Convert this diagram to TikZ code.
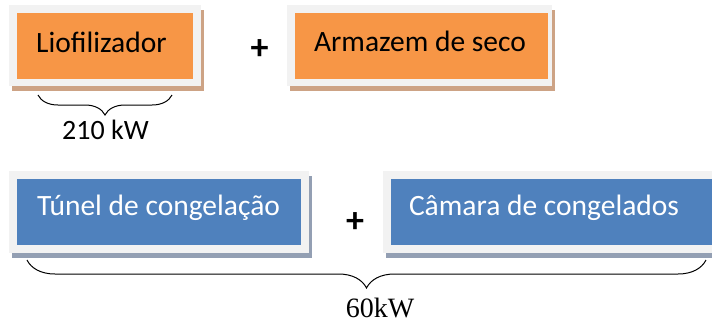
\documentclass[tikz,border=0pt]{standalone}
\usepackage{fontspec}
\setmainfont{Carlito}
\newfontfamily\tnr{Liberation Serif}
\usetikzlibrary{shadows,decorations.pathreplacing}
\definecolor{orfill}{HTML}{F79646}
\definecolor{blfill}{HTML}{4F81BD}
\definecolor{frameg}{HTML}{F2F2F2}
\definecolor{tanshadow}{HTML}{CDA385}
\definecolor{blshadow}{HTML}{939FB3}
\tikzset{
  frameo/.style={fill=frameg, inner sep=0pt, outer sep=0pt,
    drop shadow={shadow xshift=3pt, shadow yshift=-5pt, fill=tanshadow, opacity=1}},
  frameb/.style={fill=frameg, inner sep=0pt, outer sep=0pt,
    drop shadow={shadow xshift=3pt, shadow yshift=-5pt, fill=blshadow, opacity=1}},
  innero/.style={fill=orfill, inner sep=0pt},
  innerb/.style={fill=blfill, inner sep=0pt},
  boxtext/.style={font=\fontsize{29.5}{32}\selectfont, anchor=base, inner sep=0pt},
  plustext/.style={font=\fontsize{36}{40}\selectfont\bfseries, inner sep=0pt},
  bracepath/.style={decorate, line width=1pt},
}
\begin{document}
\begin{tikzpicture}[x=1pt,y=-1pt]
\useasboundingbox (0,0) rectangle (712,322);
% box 1
\node[frameo, minimum width=192pt, minimum height=81pt] (f1) at (105,45.5) {};
\node[innero, minimum width=176pt, minimum height=66pt] (b1) at (105,46) {};
\node[boxtext] (t1) at (101.5,52) {Liofilizador};
% box 2
\node[frameo, minimum width=265pt, minimum height=81pt] (f2) at (419.5,45.5) {};
\node[innero, minimum width=253pt, minimum height=66pt] (b2) at (421.5,46) {};
\node[boxtext] (t2) at (420,51) {Armazem de seco};
% plus 1
\node[plustext] (p1) at (259.5,50) {+};
% box 3
\node[frameb, minimum width=300pt, minimum height=82pt] (f3) at (159,212) {};
\node[innerb, minimum width=284pt, minimum height=66pt] (b3) at (159,212) {};
\node[boxtext, text=white] (t3) at (158.5,215) {Túnel de congelação};
% box 4
\node[frameb, minimum width=340pt, minimum height=82pt] (f4) at (553,212) {};
\node[innerb, minimum width=325pt, minimum height=66pt] (b4) at (553.5,212) {};
\node[boxtext, text=white] (t4) at (544,215) {Câmara de congelados};
% plus 2
\node[plustext] (p2) at (355,223) {+};
% brace 1
\coordinate (a1) at (38,95);
\coordinate (a2) at (172,95);
\draw[bracepath, decoration={brace, mirror, amplitude=20pt}] (a1) -- (a2);
\node[font=\fontsize{28}{32}\selectfont, anchor=base, inner sep=0pt] (l1) at (105.5,139) {210 kW};
% brace 2
\coordinate (c1) at (27,260);
\coordinate (c2) at (706,260);
\draw[bracepath, decoration={brace, mirror, amplitude=28pt, aspect=0.5}] (c1) -- (c2);
\node[font=\tnr\fontsize{28}{30}\selectfont, anchor=base, inner sep=0pt] (l2) at (380,317) {60kW};
\end{tikzpicture}
\end{document}
